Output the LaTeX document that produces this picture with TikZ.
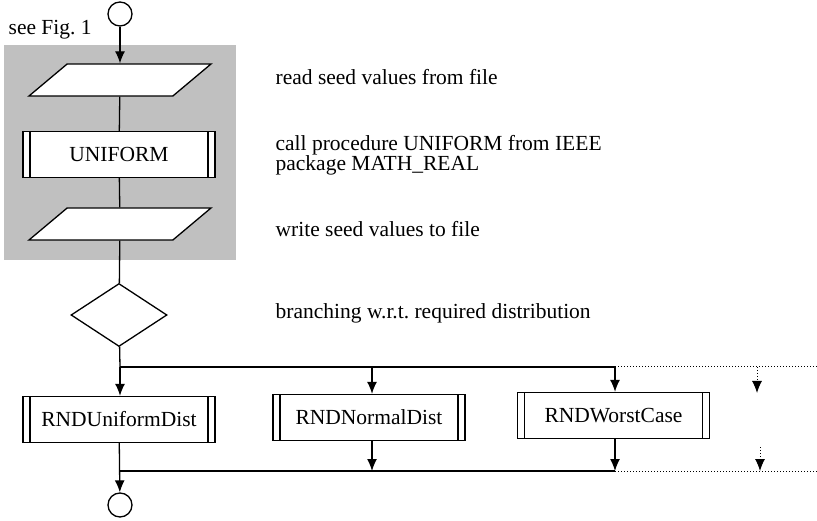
\documentclass[tikz,border=0pt]{standalone}
\usepackage{fontspec}
\setmainfont{Liberation Serif}
\usetikzlibrary{shapes.geometric,arrows.meta}
\definecolor{panelgray}{RGB}{192,192,192}

\begin{document}
\begin{tikzpicture}
      [x=1pt,y=-1pt,line width=1.3pt,
       >={Latex[length=12pt,width=10pt]},
       every node/.style={font=\fontsize{21.5}{20.5}\selectfont},
       nodeTerm/.style={circle,draw,fill=white,minimum size=24pt,inner sep=0pt},
       nodeIO/.style={trapezium,draw,fill=white,trapezium left angle=40,
         trapezium right angle=140,trapezium stretches body,
         minimum width=182pt,inner xsep=0pt,inner ysep=16pt},
       nodeProc/.style={rectangle,draw,fill=white,minimum width=192pt,
         minimum height=46pt,inner sep=0pt,
         path picture={
           \draw ([xshift=7pt]path picture bounding box.north west)
             -- ([xshift=7pt]path picture bounding box.south west);
           \draw ([xshift=-7pt]path picture bounding box.north east)
             -- ([xshift=-7pt]path picture bounding box.south east);}},
       nodeDec/.style={diamond,draw,fill=white,minimum width=96pt,
         minimum height=63pt,inner sep=0pt},
       nodeNote/.style={anchor=base west,inner sep=0pt,align=left}]
      \useasboundingbox (0,0) rectangle (817,521);

      % grey panel behind the seed handling
      \fill[panelgray] (4,45) rectangle (236,260);

      \node[nodeTerm] (start) at (120,14) {};
      \node[anchor=base west,inner sep=0pt] (ref) at (8,35) {see Fig.~1};
      \node[nodeIO] (read) at (120,80) {};
      \node[nodeProc] (uniform) at (119,154.5) {UNIFORM};
      \node[nodeIO] (write) at (120,224) {};
      \node[nodeDec] (branch) at (119,315) {};

      \node[nodeProc] (uniDist) at (119,419.5) {RNDUniformDist};
      \node[nodeProc] (normDist) at (369,417.5) {RNDNormalDist};
      \node[nodeProc] (worstCase) at (613.5,415.5) {RNDWorstCase};
      \node[nodeTerm] (stop) at (120,505) {};

      % notes on the right
      \node[nodeNote] (noteRead) at (275,85) {read seed values from file};
      \node[nodeNote] (noteCall) at (275,171)
        {call procedure UNIFORM from IEEE\\package MATH\_REAL};
      \node[nodeNote] (noteWrite) at (275,237) {write seed values to file};
      \node[nodeNote] (noteBranch) at (275,319)
        {branching w.r.t.\ required distribution};

      % fork and join lines
      \coordinate (fork0) at (120,367);
      \coordinate (fork1) at (372,367);
      \coordinate (fork2) at (615,367);
      \coordinate (fork3) at (757,367);
      \coordinate (forkEnd) at (817,367);
      \coordinate (forkTip) at (757,393);
      \coordinate (join0) at (120,471);
      \coordinate (join1) at (372,471);
      \coordinate (join2) at (615,471);
      \coordinate (join3) at (760,471);
      \coordinate (joinTail) at (760,447);
      \coordinate (joinEnd) at (817,471);

      \draw[->] (start) -- (read);
      \foreach \from/\to in {read/uniform,uniform/write,write/branch,branch/fork0}
      \draw (\from) -- (\to);
      \draw (fork0) -- (fork2);
      \draw (join0) -- (join2);

      \foreach \from/\to in {fork0/uniDist,fork1/normDist,fork2/worstCase}
      \draw[->] (\from) -- (\from |- \to.north);
      \foreach \from/\to in {normDist/join1,worstCase/join2}
      \draw[->] (\from.south -| \to) -- (\to);
      \draw[->] (uniDist) -- (stop);

      % dotted lines for further branches
      \draw[dotted,line width=1pt] (fork2) -- (forkEnd);
      \draw[dotted,line width=1pt] (join2) -- (joinEnd);
      \draw[dotted,line width=1pt,->] (fork3) -- (forkTip);
      \draw[dotted,line width=1pt,->] (joinTail) -- (join3);
    \end{tikzpicture}
\end{document}
